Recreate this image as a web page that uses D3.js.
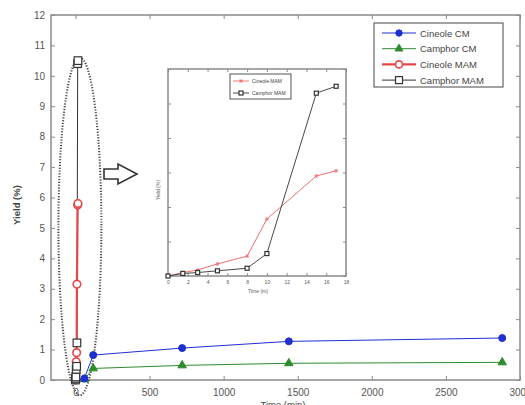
<!DOCTYPE html>
<html>
<head>
<meta charset="utf-8">
<script src="https://cdn.jsdelivr.net/npm/d3@7"></script>
<style>
  body { margin: 0; background: #fff; }
  svg { display: block; font-family: "Liberation Sans", Arial, sans-serif; }
</style>
</head>
<body>
<svg id="chart" width="525" height="405"></svg>
<script>
// ---- data ----
// conventional maceration (CM), time in minutes
const cmTime     = [0, 60, 120, 720, 1440, 2880];
const cineoleCM  = [0, 0.05, 0.82, 1.05, 1.27, 1.38];
const camphorCM  = [0, 0.02, 0.38, 0.48, 0.55, 0.58];

// microwave assisted (MAM), time in minutes
const mamTime     = [0, 1, 3, 5, 8, 10, 15, 17];
const cineoleMAM  = [0, 0.1, 0.2, 0.6, 0.9, 3.15, 5.75, 5.8];
const camphorMAM  = [0, 0.05, 0.1, 0.35, 0.45, 1.22, 10.4, 10.5];

// zoomed inset values as drawn in the small panel
const insetTime    = [0, 1.5, 3, 5, 8, 10, 15, 17];
const insetCineole = [0, 0.2, 0.35, 0.7, 1.15, 3.3, 5.8, 6.1];
const insetCamphor = [0, 0.15, 0.2, 0.3, 0.45, 1.3, 10.6, 11.0];

const xTicks = [0, 500, 1000, 1500, 2000, 2500, 3000];
const yTicks = d3.range(0, 13);
const insetXTicks = d3.range(0, 19, 2);
const insetYTicks = d3.range(0, 13, 2);

const legendLabels = ['Cineole CM', 'Camphor CM', 'Cineole MAM', 'Camphor MAM'];
const insetLegend = ['Cineole MAM', 'Camphor MAM'];

// colours
const cBlue = '#1f2fd0', cGreen = '#2e8b2e', cRed = '#e5484a', cBlack = '#333';
const axisCol = '#8a8a8a', textCol = '#555';

const svg = d3.select('#chart');

// main axes
const x = d3.scaleLinear().domain([-165, 3000]).range([51, 520]);
const y = d3.scaleLinear().domain([0, 12]).range([380, 15]);

svg.append('rect')
   .attr('x', 51).attr('y', 15)
   .attr('width', 520 - 51).attr('height', 380 - 15)
   .attr('fill', '#fff').attr('stroke', axisCol).attr('stroke-width', 1.5);

function styleAxis(g, fs) {
  g.select('.domain').remove();
  g.selectAll('line').attr('stroke', axisCol);
  g.selectAll('text').attr('fill', textCol).attr('font-size', fs);
}

svg.append('g').attr('transform', 'translate(0,380)')
   .call(d3.axisBottom(x).tickValues(xTicks).tickSize(-4).tickPadding(9).tickFormat(d3.format('d')))
   .call(g => styleAxis(g, 10));
svg.append('g').attr('transform', 'translate(0,15)')
   .call(d3.axisTop(x).tickValues(xTicks).tickSize(-4).tickFormat(''))
   .call(g => styleAxis(g, 10));
svg.append('g').attr('transform', 'translate(51,0)')
   .call(d3.axisLeft(y).tickValues(yTicks).tickSize(-4).tickPadding(6))
   .call(g => styleAxis(g, 10));
svg.append('g').attr('transform', 'translate(520,0)')
   .call(d3.axisRight(y).tickValues(yTicks).tickSize(-4).tickFormat(''))
   .call(g => styleAxis(g, 10));

// axis labels (bottom one sits at the page edge, as in the source)
svg.append('text')
   .attr('x', 283).attr('y', 408)
   .attr('text-anchor', 'middle').attr('font-size', 9.5).attr('fill', '#444')
   .text('Time (min)');
svg.append('text')
   .attr('transform', 'translate(20,205) rotate(-90)')
   .attr('text-anchor', 'middle').attr('font-size', 9.5).attr('font-weight', 'bold').attr('fill', '#444')
   .text('Yield (%)');

// dotted ellipse around the MAM data, in data units
svg.append('ellipse')
   .attr('cx', x(30)).attr('cy', y(5.05))
   .attr('rx', x(175) - x(30)).attr('ry', y(0) - y(5.55))
   .attr('fill', 'none').attr('stroke', '#444')
   .attr('stroke-width', 2).attr('stroke-dasharray', '1.2,1.6');

// hollow arrow pointing at the inset
svg.append('path')
   .attr('d', 'M104,169 L118,169 L118,164 L137,174 L118,184 L118,179 L104,179 Z')
   .attr('fill', '#fff').attr('stroke', '#333').attr('stroke-width', 1.6);

// markers
function marker(g, type, col, size) {
  if (type === 'circleFilled') {
    g.append('circle').attr('r', size).attr('fill', col).attr('stroke', col);
  } else if (type === 'triangle') {
    g.append('path').attr('d', d3.symbol(d3.symbolTriangle, size * size * 3)()).attr('fill', col).attr('stroke', col);
  } else if (type === 'circleOpen') {
    g.append('circle').attr('r', size).attr('fill', '#fff').attr('stroke', col).attr('stroke-width', 1.6);
  } else if (type === 'square') {
    g.append('rect').attr('x', -size).attr('y', -size).attr('width', size * 2).attr('height', size * 2)
     .attr('fill', '#fff').attr('stroke', col).attr('stroke-width', 1.2);
  } else if (type === 'cross') {
    g.append('path').attr('d', `M${-size},0H${size}M0,${-size}V${size}M${-size*0.7},${-size*0.7}L${size*0.7},${size*0.7}M${-size*0.7},${size*0.7}L${size*0.7},${-size*0.7}`)
     .attr('stroke', col).attr('stroke-width', 0.8);
  }
}

// lines first, markers afterwards so the hollow markers stay on top
function drawLine(parent, xs, ys, xv, yv, col, lw) {
  const pts = xv.map((d, i) => [xs(d), ys(yv[i])]);
  parent.append('path')
    .attr('d', d3.line()(pts))
    .attr('fill', 'none').attr('stroke', col).attr('stroke-width', lw);
}
function drawMarkers(parent, xs, ys, xv, yv, col, type, size) {
  const pts = xv.map((d, i) => [xs(d), ys(yv[i])]);
  parent.selectAll(null).data(pts).enter()
    .append('g').attr('transform', d => `translate(${d[0]},${d[1]})`)
    .each(function() { marker(d3.select(this), type, col, size); });
}

const main = svg.append('g');
drawLine(main, x, y, cmTime, camphorCM, cGreen, 1);
drawLine(main, x, y, cmTime, cineoleCM, cBlue, 1);
drawLine(main, x, y, mamTime, camphorMAM, cBlack, 1);
drawLine(main, x, y, mamTime, cineoleMAM, cRed, 2.2);
drawMarkers(main, x, y, cmTime, camphorCM, cGreen, 'triangle', 3.2);
drawMarkers(main, x, y, cmTime, cineoleCM, cBlue, 'circleFilled', 3.5);
drawMarkers(main, x, y, mamTime, cineoleMAM, cRed, 'circleOpen', 3.8);
drawMarkers(main, x, y, mamTime, camphorMAM, cBlack, 'square', 3.8);

// legend
const legendStyles = [
  { col: cBlue, lw: 1, type: 'circleFilled', size: 3.2 },
  { col: cGreen, lw: 1, type: 'triangle', size: 3 },
  { col: cRed, lw: 2.2, type: 'circleOpen', size: 3.5 },
  { col: cBlack, lw: 1, type: 'square', size: 3.5 }
];
const legend = svg.append('g');
legend.append('rect')
  .attr('x', 374).attr('y', 23).attr('width', 129).attr('height', 64)
  .attr('fill', '#fff').attr('stroke', '#666').attr('stroke-width', 1.2);
legendLabels.forEach((lab, i) => {
  const ly = 33 + i * 15.7, s = legendStyles[i];
  legend.append('line').attr('x1', 382).attr('x2', 416).attr('y1', ly).attr('y2', ly)
    .attr('stroke', s.col).attr('stroke-width', s.lw);
  marker(legend.append('g').attr('transform', `translate(399,${ly})`), s.type, s.col, s.size);
  legend.append('text').attr('x', 420).attr('y', ly + 3.5)
    .attr('font-size', 9.5).attr('fill', '#444').text(lab);
});

// ---- inset panel ----
const ix = d3.scaleLinear().domain([0, 18]).range([168, 346]);
const iy = d3.scaleLinear().domain([0, 12]).range([276, 69]);
const inset = svg.append('g');
inset.append('rect')
  .attr('x', 168).attr('y', 69).attr('width', 346 - 168).attr('height', 276 - 69)
  .attr('fill', '#fff').attr('stroke', axisCol).attr('stroke-width', 1.5);

inset.append('g').attr('transform', 'translate(0,276)')
  .call(d3.axisBottom(ix).tickValues(insetXTicks).tickSize(-3).tickPadding(4))
  .call(g => styleAxis(g, 5));
inset.append('g').attr('transform', 'translate(0,69)')
  .call(d3.axisTop(ix).tickValues(insetXTicks).tickSize(-3).tickFormat(''))
  .call(g => styleAxis(g, 5));
inset.append('g').attr('transform', 'translate(168,0)')
  .call(d3.axisLeft(iy).tickValues(insetYTicks).tickSize(-3).tickFormat(''))
  .call(g => styleAxis(g, 5));
inset.append('g').attr('transform', 'translate(346,0)')
  .call(d3.axisRight(iy).tickValues(insetYTicks).tickSize(-3).tickFormat(''))
  .call(g => styleAxis(g, 5));

inset.append('text').attr('x', 258).attr('y', 293)
  .attr('text-anchor', 'middle').attr('font-size', 5).attr('fill', textCol).text('Time (m)');
inset.append('text').attr('transform', 'translate(160,190) rotate(-90)')
  .attr('text-anchor', 'middle').attr('font-size', 5).attr('fill', textCol).text('Yield (%)');

drawLine(inset, ix, iy, insetTime, insetCineole, '#f07070', 1);
drawLine(inset, ix, iy, insetTime, insetCamphor, cBlack, 0.9);
drawMarkers(inset, ix, iy, insetTime, insetCineole, '#f07070', 'cross', 2);
drawMarkers(inset, ix, iy, insetTime, insetCamphor, cBlack, 'square', 2);

const insetLeg = inset.append('g');
insetLeg.append('rect')
  .attr('x', 230).attr('y', 74).attr('width', 61).attr('height', 25)
  .attr('fill', '#fff').attr('stroke', '#555').attr('stroke-width', 1);
[{ col: '#f07070', type: 'cross' }, { col: cBlack, type: 'square' }].forEach((s, i) => {
  const ly = 81 + i * 12;
  insetLeg.append('line').attr('x1', 233).attr('x2', 249).attr('y1', ly).attr('y2', ly)
    .attr('stroke', s.col).attr('stroke-width', 0.9);
  marker(insetLeg.append('g').attr('transform', `translate(241,${ly})`), s.type, s.col, 2);
  insetLeg.append('text').attr('x', 252).attr('y', ly + 1.8)
    .attr('font-size', 5).attr('fill', '#444').text(insetLegend[i]);
});
</script>
</body>
</html>
